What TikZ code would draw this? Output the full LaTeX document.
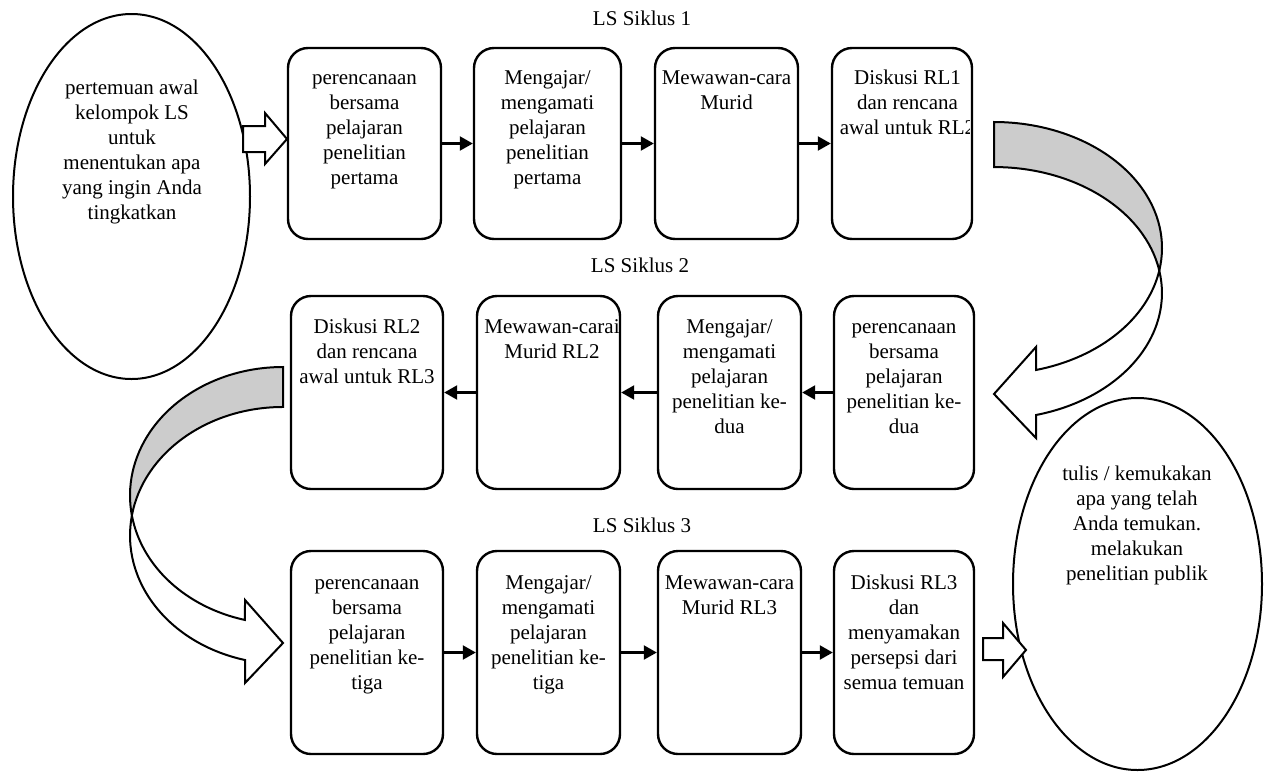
\documentclass[tikz,border=0pt]{standalone}
\usepackage{fontspec}
\setmainfont{Liberation Serif}
\usetikzlibrary{positioning,shapes.geometric,arrows.meta}
\definecolor{backgray}{RGB}{204,204,204}
\tikzset{
  box/.style={draw, line width=2.4pt, rounded corners=20pt},
  bubble/.style={draw, ellipse, line width=2pt, inner sep=0pt},
  txt/.style={font=\fontsize{21}{25}\selectfont, align=center, inner sep=0pt},
  link/.style={->, line width=2.2pt},
  fat/.style={draw, line width=2pt, fill=white, line join=miter},
}

\begin{document}
\begin{tikzpicture}[x=1pt,y=-1pt,>={Triangle[length=13pt,width=14pt]}]
\useasboundingbox (0,0) rectangle (1264,772);

%start and end
\node[bubble, minimum width=237pt, minimum height=365pt] (start) at (131.5,196.5) {};
\node[txt, anchor=north] (tstart) at (132,77) {\strut pertemuan awal\\kelompok LS\\untuk\\menentukan apa\\yang ingin Anda\\tingkatkan};
\node[bubble, minimum width=249pt, minimum height=372pt] (finish) at (1137.5,584) {};
\node[txt, anchor=north] (tfinish) at (1137,463) {\strut tulis / kemukakan\\apa yang telah\\Anda temukan.\\melakukan\\penelitian publik};

%cycle titles
\node[txt, anchor=base] (s1) at (642,25) {LS Siklus 1};
\node[txt, anchor=base] (s2) at (640,272) {LS Siklus 2};
\node[txt, anchor=base] (s3) at (642,532) {LS Siklus 3};

%cycle 1
\node[box, minimum width=153pt, minimum height=191pt] (b11) at (364.5,143.5) {};
\node[box, minimum width=147pt, minimum height=191pt] (b12) at (547.5,143.5) {};
\node[box, minimum width=143pt, minimum height=191pt] (b13) at (726.5,143.5) {};
\node[box, minimum width=140pt, minimum height=191pt] (b14) at (902,143.5) {};
\node[txt, below=20pt of b11.north] (t11) {\strut perencanaan\\bersama\\pelajaran\\penelitian\\pertama};
\node[txt, below=20pt of b12.north] (t12) {\strut Mengajar/\\mengamati\\pelajaran\\penelitian\\pertama};
\node[txt, below=20pt of b13.north] (t13) {\strut Mewawan-cara\\Murid};
\begin{scope}
\clip (b14.north west) rectangle ([xshift=-4pt]b14.south east);
\node[txt, below=20pt of b14.north, xshift=5.5pt] (t14) {\strut Diskusi RL1\\dan rencana\\awal untuk RL2};
\end{scope}

%cycle 2
\node[box, minimum width=140pt, minimum height=193pt] (b21) at (904,392.5) {};
\node[box, minimum width=143pt, minimum height=193pt] (b22) at (729.5,392.5) {};
\node[box, minimum width=143pt, minimum height=193pt] (b23) at (548.5,392.5) {};
\node[box, minimum width=152pt, minimum height=193pt] (b24) at (367,392.5) {};
\node[txt, below=21pt of b21.north] (t21) {\strut perencanaan\\bersama\\pelajaran\\penelitian ke-\\dua};
\node[txt, below=21pt of b22.north] (t22) {\strut Mengajar/\\mengamati\\pelajaran\\penelitian ke-\\dua};
\begin{scope}
\clip (b23.north west) rectangle ([xshift=-3pt]b23.south east);
\node[txt, below=21pt of b23.north, xshift=3.5pt] (t23) {\strut Mewawan-carai\\Murid RL2};
\end{scope}
\node[txt, below=21pt of b24.north] (t24) {\strut Diskusi RL2\\dan rencana\\awal untuk RL3};

%cycle 3
\node[box, minimum width=152pt, minimum height=203pt] (b31) at (367,652.5) {};
\node[box, minimum width=143pt, minimum height=203pt] (b32) at (548.5,652.5) {};
\node[box, minimum width=143pt, minimum height=203pt] (b33) at (729.5,652.5) {};
\node[box, minimum width=140pt, minimum height=203pt] (b34) at (904,652.5) {};
\node[txt, below=22pt of b31.north] (t31) {\strut perencanaan\\bersama\\pelajaran\\penelitian ke-\\tiga};
\node[txt, below=22pt of b32.north] (t32) {\strut Mengajar/\\mengamati\\pelajaran\\penelitian ke-\\tiga};
\node[txt, below=22pt of b33.north] (t33) {\strut Mewawan-cara\\Murid RL3};
\node[txt, below=22pt of b34.north] (t34) {\strut Diskusi RL3\\dan\\menyamakan\\persepsi dari\\semua temuan};

%steps
\foreach \a/\b in {b11/b12,b12/b13,b13/b14,b21/b22,b22/b23,b23/b24,b31/b32,b32/b33,b33/b34}
\draw[link] (\a) -- (\b);

%turn from cycle 1 to cycle 2
\draw[fat] (1159.3,270.5) arc[start angle=10.3, end angle=75.5, x radius=168, y radius=126] -- (1036,347) -- (994,394) -- (1036,438) -- (1036,415) arc[start angle=75.5, end angle=-10.3, x radius=168, y radius=126] -- cycle;
\draw[fat, fill=backgray] (994,122) arc[start angle=-90, end angle=10.3, x radius=168, y radius=126] arc[start angle=-10.3, end angle=-90, x radius=168, y radius=126] -- cycle;

%turn from cycle 2 to cycle 3
\draw[fat] (131.9,515.5) arc[start angle=-188.95, end angle=-255.6, x radius=153, y radius=128.5] -- (245,600) -- (283,643) -- (245,683) -- (245,660) arc[start angle=-255.6, end angle=-171.05, x radius=153, y radius=128.5] -- cycle;
\draw[fat, fill=backgray] (283,367) arc[start angle=-90, end angle=-188.95, x radius=153, y radius=128.5] arc[start angle=-171.05, end angle=-90, x radius=153, y radius=128.5] -- cycle;

%in and out
\draw[fat] (243,126) -- (265,126) -- (265,113) -- (287,139) -- (265,164) -- (265,152) -- (243,152) -- cycle;
\draw[fat] (983,638) -- (1003,638) -- (1003,623) -- (1026,650) -- (1003,677) -- (1003,660) -- (983,660) -- cycle;
\end{tikzpicture}
\end{document}
